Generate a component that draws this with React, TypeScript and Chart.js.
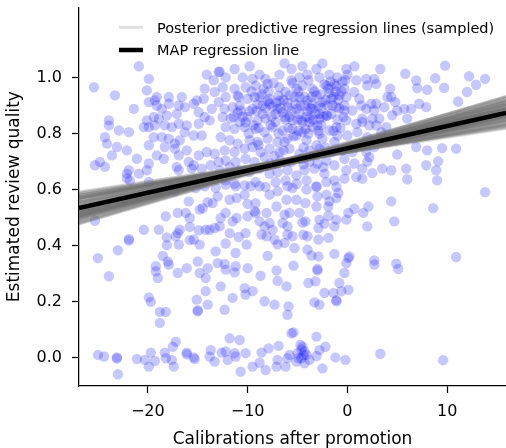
import React, { useEffect, useRef } from "react";
import { Chart, registerables } from "chart.js";

Chart.register(...registerables);

type Pt = [number, number];

// ---------- axes ----------
const X_MIN = -26.9;
const X_MAX = 15.9;
const Y_MIN = -0.1;
const Y_MAX = 1.25;
const X_TICKS = [-20, -10, 0, 10];
const Y_TICKS = [0, 0.2, 0.4, 0.6, 0.8, 1.0];
const X_TITLE = "Calibrations after promotion";
const Y_TITLE = "Estimated review quality";
const LEGEND_LABELS = ["Posterior predictive regression lines (sampled)", "MAP regression line"];

// ---------- regression lines ----------
const MAP_INTERCEPT = 0.7475;
const MAP_SLOPE = 0.00792;
const POSTERIOR_INTERCEPTS = [
  0.7493, 0.7477, 0.7507, 0.7543, 0.7421, 0.7405, 0.7509, 0.7591, 0.7385, 0.7613,
  0.7399, 0.7569, 0.7359, 0.7395, 0.7487, 0.7569, 0.7529, 0.7417, 0.7457, 0.7485,
  0.7607, 0.7377, 0.7541, 0.7485, 0.7403, 0.7531, 0.7525, 0.7423, 0.7351, 0.7601,
  0.7391, 0.7605, 0.7385, 0.7573, 0.7543, 0.7473, 0.7361, 0.7437, 0.7515, 0.7503,
  0.7605, 0.7343, 0.7541, 0.7459, 0.7441, 0.7415, 0.7667, 0.7409, 0.7371, 0.7507,
  0.7369, 0.7559, 0.7439, 0.7533, 0.7523, 0.7359, 0.7509, 0.7511, 0.7627, 0.7487,
  0.7541, 0.7407, 0.7485, 0.7593, 0.7313, 0.7669, 0.7321, 0.7621, 0.7369, 0.7651,
  0.7315, 0.7445, 0.7505, 0.7571, 0.7467, 0.7393, 0.7695, 0.7323, 0.7583, 0.7449,
];
const POSTERIOR_SLOPES = [
  0.00822, 0.00712, 0.00912, 0.00772, 0.00852, 0.00642, 0.00882, 0.00802, 0.00742, 0.00972,
  0.00682, 0.00832, 0.00782, 0.00592, 0.00862, 0.00932, 0.00732, 0.00812, 0.00662, 0.00892,
  0.01012, 0.00762, 0.00702, 0.00842, 0.00622, 0.00952, 0.00792, 0.00872, 0.00552, 0.00902,
  0.00752, 0.00992, 0.00692, 0.00822, 0.00922, 0.00722, 0.00802, 0.00612, 0.00942, 0.00672,
  0.01042, 0.00572, 0.00852, 0.00882, 0.00652, 0.00742, 0.00962, 0.00832, 0.00602, 0.00912,
  0.00582, 0.00982, 0.00632, 0.01022, 0.00872, 0.00532, 0.00932, 0.00702, 0.01062, 0.00762,
  0.01002, 0.00562, 0.00842, 0.00972, 0.00672, 0.01032, 0.00602, 0.00902, 0.00732, 0.01052,
  0.00542, 0.00642, 0.00892, 0.00952, 0.00712, 0.00822, 0.00992, 0.00622, 0.00922, 0.00782,
];

// ---------- observations (calibrations, quality) ----------
const upperLeftPoints: Pt[] = [
  [-20.9, 1.04], [-19.9, 0.995], [-25.4, 0.965], [-23.3, 0.936], [-20.1, 0.954], [-19.1, 0.93], [-17.9, 0.93],
  [-16.6, 0.93], [-19.1, 0.9], [-18.6, 0.888], [-17.9, 0.906], [-16.9, 0.9], [-16.3, 0.894], [-15.4, 0.906],
  [-15.1, 0.918], [-14.4, 0.924], [-14.3, 0.96], [-13.4, 0.99], [-12.9, 1.02], [-14.1, 1.01], [-13.3, 0.948],
  [-12.9, 0.912], [-13.6, 0.888], [-14.9, 0.876], [-14.3, 0.859], [-13.8, 0.847], [-14.9, 0.835], [-14.6, 0.793],
  [-15.4, 0.793], [-16.3, 0.805], [-16.1, 0.829], [-16.9, 0.835], [-17.1, 0.87], [-18.1, 0.864], [-18.9, 0.853],
  [-19.4, 0.859], [-20.1, 0.847], [-20.4, 0.823], [-19.9, 0.823], [-19.3, 0.829], [-18.3, 0.829], [-17.6, 0.823],
  [-16.8, 0.776], [-17.3, 0.764], [-17.9, 0.782], [-18.6, 0.787], [-19.4, 0.787], [-19.9, 0.758], [-19.1, 0.722],
  [-18.3, 0.752], [-17.3, 0.746], [-16.9, 0.722], [-16.1, 0.74], [-15.9, 0.699], [-15.4, 0.687], [-14.9, 0.722],
  [-14.1, 0.734], [-13.3, 0.728], [-12.9, 0.699], [-13.7, 0.687], [-14.6, 0.675], [-15.6, 0.675], [-16.9, 0.669],
  [-17.1, 0.681], [-18.4, 0.71], [-19.9, 0.693], [-20.1, 0.669], [-20.9, 0.657], [-21.9, 0.669], [-22.1, 0.657],
  [-21.1, 0.71], [-22.1, 0.74], [-22.9, 0.811], [-23.9, 0.847], [-23.9, 0.829], [-24.3, 0.787], [-24.1, 0.764],
  [-23.1, 0.752], [-23.6, 0.722], [-25.3, 0.687], [-24.8, 0.699], [-24.3, 0.681], [-21.9, 0.805], [-21.4, 0.888],
  [-19.9, 0.912], [-19.3, 0.918], [-21.8, 0.633], [-19.9, 0.627], [-22.1, 0.64],
];

const denseCorePoints: Pt[] = [
  [-12.8, 1.02], [-11.3, 1.03], [-9.8, 1.04], [-8.8, 1.01], [-6.3, 1.05], [-5.6, 1.03], [-4.5, 1.04], [-3.1, 1.03],
  [-2.5, 1.05], [-0.1, 1.03], [0.7, 1.04],
  [-12.2, 1.0], [-10.5, 1.0], [-9.5, 0.995], [-8.2, 0.995], [-6.8, 1.01], [-5.6, 0.99], [-4.8, 1.0], [-4.0, 1.01],
  [-2.8, 1.0], [-1.8, 1.01], [-1.0, 1.0], [0.0, 1.01], [0.9, 0.99],
  [-12.5, 0.965], [-11.3, 0.96], [-10.2, 0.965], [-9.2, 0.971], [-8.0, 0.977], [-6.8, 0.965], [-6.2, 0.948],
  [-5.1, 0.96], [-4.5, 0.971], [-3.5, 0.96], [-2.1, 0.971], [-1.3, 0.977], [-0.3, 0.96], [0.7, 0.948],
  [-12.2, 0.93], [-11.0, 0.936], [-10.0, 0.924], [-8.8, 0.93], [-7.8, 0.924], [-6.8, 0.918], [-5.8, 0.936],
  [-4.8, 0.93], [-4.0, 0.918], [-3.1, 0.936], [-2.5, 0.912], [-1.6, 0.924], [-0.8, 0.936], [-0.1, 0.93], [1.2, 0.924],
  [-12.3, 0.888], [-11.5, 0.894], [-10.7, 0.882], [-9.5, 0.888], [-8.5, 0.9], [-7.8, 0.906], [-7.0, 0.888],
  [-6.0, 0.894], [-5.1, 0.888], [-4.3, 0.9], [-3.5, 0.888], [-2.8, 0.87], [-2.0, 0.864], [-1.1, 0.894],
  [-0.3, 0.882], [0.5, 0.882], [1.4, 0.9],
  [-12.5, 0.859], [-11.7, 0.853], [-10.8, 0.841], [-10.0, 0.859], [-9.0, 0.847], [-8.2, 0.853], [-7.2, 0.841],
  [-6.3, 0.859], [-5.5, 0.847], [-4.6, 0.847], [-3.8, 0.841], [-2.8, 0.853], [-2.1, 0.864], [-1.1, 0.823],
  [-0.1, 0.847], [0.9, 0.835], [1.5, 0.853],
  [-12.2, 0.823], [-11.3, 0.817], [-10.3, 0.823], [-9.2, 0.817], [-8.3, 0.805], [-7.5, 0.823], [-6.5, 0.811],
  [-5.5, 0.817], [-4.5, 0.805], [-3.5, 0.823], [-2.8, 0.799], [-1.8, 0.811], [-1.0, 0.793], [0.0, 0.793], [1.0, 0.805],
  [-12.7, 0.787], [-11.8, 0.776], [-11.0, 0.764], [-9.8, 0.776], [-9.0, 0.77], [-8.0, 0.782], [-7.0, 0.77],
  [-6.0, 0.782], [-5.1, 0.793], [-4.1, 0.776], [-3.1, 0.758], [-2.5, 0.782], [-1.3, 0.77],
  [-12.3, 0.74], [-11.3, 0.734], [-10.3, 0.746], [-9.5, 0.752], [-8.7, 0.734], [-7.8, 0.746], [-6.8, 0.734],
  [-5.8, 0.746], [-4.8, 0.728], [-3.8, 0.74], [-2.8, 0.746], [-1.6, 0.734], [-0.5, 0.74], [0.5, 0.734],
  [-12.2, 0.704], [-11.2, 0.699], [-10.2, 0.71], [-9.3, 0.699], [-8.3, 0.716], [-7.7, 0.693], [-6.7, 0.704],
  [-5.6, 0.699], [-4.6, 0.71], [-3.8, 0.699], [-3.0, 0.693], [-2.1, 0.704], [-1.3, 0.687], [-0.3, 0.71], [0.7, 0.693],
  [-12.8, 0.669], [-11.8, 0.681], [-10.8, 0.669], [-9.8, 0.663], [-8.8, 0.675], [-7.8, 0.657], [-7.0, 0.663],
  [-6.0, 0.669], [-5.1, 0.651], [-4.3, 0.669], [-3.3, 0.675], [-2.3, 0.657], [-1.3, 0.633], [-0.1, 0.669],
  [0.9, 0.645], [1.5, 0.675],
  [-12.2, 0.633], [-11.3, 0.621], [-10.3, 0.615], [-9.2, 0.627], [-8.2, 0.61], [-7.2, 0.627], [-6.2, 0.633],
  [-5.1, 0.621], [-4.1, 0.633], [-3.1, 0.61], [-2.1, 0.627], [-1.1, 0.61], [-0.3, 0.639],
];

const crowdedCorePoints: Pt[] = [
  [-11.0, 0.875], [-10.5, 0.86], [-9.8, 0.88], [-9.0, 0.905], [-8.5, 0.87], [-8.0, 0.915], [-7.5, 0.895],
  [-7.2, 0.87], [-6.5, 0.875], [-6.0, 0.91], [-5.8, 0.86], [-5.2, 0.905], [-4.8, 0.87], [-4.5, 0.84],
  [-4.0, 0.88], [-3.8, 0.855], [-3.5, 0.905], [-3.2, 0.87], [-3.0, 0.83], [-2.6, 0.89], [-2.2, 0.92],
  [-1.8, 0.945], [-1.5, 0.9], [-1.2, 0.95], [-0.9, 0.92], [-0.5, 0.985], [-0.3, 0.9], [-1.7, 0.985],
  [-2.3, 0.975], [-4.9, 0.95], [-7.9, 0.95], [-9.3, 0.93], [-10.8, 0.9], [-6.9, 0.935], [-4.2, 0.815],
  [-2.9, 0.81], [-5.9, 0.82], [-8.9, 0.82], [-9.9, 0.8], [-3.6, 0.93], [-1.0, 0.85], [-6.4, 0.74],
  [-7.3, 0.72], [-2.4, 0.68], [-4.4, 0.69],
  [-9.6, 0.95], [-9.1, 0.88], [-8.6, 0.94], [-8.2, 0.89], [-7.6, 0.86], [-7.1, 0.91], [-6.7, 0.89],
  [-6.4, 0.92], [-6.2, 0.85], [-5.6, 0.88], [-5.3, 0.93], [-5.0, 0.85], [-4.7, 0.9], [-4.3, 0.93],
  [-4.1, 0.86], [-3.7, 0.89], [-3.4, 0.85], [-3.3, 0.95], [-2.9, 0.9], [-2.7, 0.94], [-2.4, 0.86],
  [-2.0, 0.9], [-1.9, 0.96], [-1.6, 0.87], [-1.4, 0.93], [-1.1, 0.97], [-0.8, 0.89], [-0.6, 0.95],
  [-0.4, 0.86], [-0.2, 0.99], [-10.2, 0.84], [-10.9, 0.93], [-11.4, 0.86], [-9.4, 0.83], [-8.4, 0.96],
  [-7.7, 0.83], [-6.9, 0.8], [-5.4, 0.79], [-4.9, 0.81], [-3.9, 0.8], [-2.6, 0.83], [-1.4, 0.81],
  [-0.7, 0.82], [-8.9, 0.76], [-6.3, 0.77], [-4.4, 0.75], [-2.2, 0.75], [-5.5, 0.98], [-3.9, 0.99], [-7.4, 0.98],
];

const upperRightPoints: Pt[] = [
  [5.8, 1.013], [9.8, 1.042], [6.9, 0.989], [8.8, 0.997], [12.2, 1.004], [13.8, 0.995], [1.9, 0.995],
  [2.7, 0.995], [2.0, 0.971], [2.9, 0.977], [4.3, 0.96], [7.0, 0.962], [8.0, 0.956], [9.7, 0.963],
  [12.9, 0.974], [12.0, 0.948], [11.1, 0.914], [4.0, 0.93], [4.4, 0.93], [4.8, 0.912], [2.4, 0.906],
  [2.9, 0.906], [1.9, 0.888], [2.7, 0.882], [3.7, 0.894], [5.7, 0.888], [6.4, 0.888], [7.2, 0.906],
  [7.9, 0.894], [4.5, 0.865], [6.0, 0.853], [5.0, 0.882], [3.2, 0.853], [2.5, 0.853], [1.5, 0.841],
  [2.2, 0.829], [2.9, 0.829], [3.9, 0.823], [3.4, 0.805], [2.0, 0.787], [2.7, 0.752], [1.9, 0.734],
  [5.0, 0.725], [6.9, 0.752], [8.0, 0.74], [9.5, 0.748], [10.9, 0.746], [2.0, 0.699], [2.2, 0.716],
  [3.5, 0.675], [4.4, 0.669], [5.9, 0.675], [6.0, 0.637], [7.9, 0.687], [9.1, 0.701], [8.9, 0.669],
  [9.0, 0.633], [2.5, 0.659], [1.5, 0.639], [3.3, 1.03],
];

const middlePoints: Pt[] = [
  [-25.3, 0.489], [-25.0, 0.356], [-23.9, 0.291], [-23.0, 0.384], [-21.9, 0.424], [-21.9, 0.418], [-20.4, 0.457],
  [-18.9, 0.457], [-18.2, 0.505], [-18.1, 0.43], [-18.1, 0.402], [-19.2, 0.327], [-19.2, 0.309], [-19.0, 0.285],
  [-19.9, 0.216], [-19.7, 0.2], [-18.8, 0.164], [-18.2, 0.164], [-18.8, 0.125], [-18.5, 0.364], [-18.0, 0.344],
  [-17.9, 0.333], [-17.0, 0.303], [-17.0, 0.445], [-16.8, 0.457], [-16.9, 0.404], [-16.1, 0.32], [-15.1, 0.208],
  [-15.0, 0.166], [-15.0, 0.17], [-14.2, 0.238], [-14.0, 0.19], [-15.0, 0.344], [-14.8, 0.303], [-14.2, 0.285],
  [-14.0, 0.32], [-15.4, 0.422], [-15.8, 0.42], [-15.8, 0.467], [-14.9, 0.455], [-14.8, 0.404], [-15.8, 0.499],
  [-15.9, 0.558], [-14.8, 0.529], [-14.5, 0.534], [-14.0, 0.555], [-14.2, 0.457], [-13.8, 0.457], [-13.3, 0.463],
  [-12.8, 0.469], [-13.2, 0.38], [-13.0, 0.338], [-12.7, 0.255], [-12.3, 0.172], [-12.2, 0.315], [-12.3, 0.335],
  [-11.3, 0.305], [-12.2, 0.408], [-11.5, 0.214], [-11.2, 0.327], [-11.2, 0.374], [-10.9, 0.431], [-10.2, 0.445],
  [-10.1, 0.404], [-10.0, 0.32], [-10.3, 0.249], [-10.2, 0.226], [-9.5, 0.238], [-8.7, 0.293], [-8.3, 0.202],
  [-8.0, 0.364], [-7.3, 0.19], [-7.1, 0.312], [-7.0, 0.275], [-6.1, 0.255], [-6.0, 0.154], [-5.9, 0.184],
  [-5.4, 0.329], [-5.3, 0.392], [-4.4, 0.439], [-4.0, 0.386], [-3.9, 0.267], [-3.2, 0.273], [-3.0, 0.317],
  [-3.0, 0.312], [-2.9, 0.362], [-3.6, 0.365], [-3.3, 0.198], [-2.8, 0.19], [-2.3, 0.232], [-1.4, 0.232],
  [-1.1, 0.202], [-1.1, 0.206], [-0.8, 0.267], [-0.6, 0.238], [0.1, 0.243], [-0.3, 0.303], [0.1, 0.356],
  [0.2, 0.362], [-1.3, 0.371], [-0.1, 0.338], [2.7, 0.348], [2.7, 0.333], [4.9, 0.336], [5.1, 0.317],
  [4.7, 0.487], [4.4, 0.558], [2.1, 0.54], [2.0, 0.469], [1.6, 0.517], [0.7, 0.532], [0.1, 0.517],
  [-0.1, 0.493], [-1.1, 0.493], [-1.3, 0.469], [-1.9, 0.507], [-1.9, 0.54], [-2.3, 0.479], [-1.9, 0.428],
  [-2.9, 0.422], [-2.9, 0.463], [-2.8, 0.493], [-4.0, 0.434], [-4.2, 0.487], [-4.5, 0.483], [-4.8, 0.517],
  [-5.5, 0.434], [-6.0, 0.469], [-6.0, 0.44], [-6.3, 0.41], [-7.0, 0.405], [-6.5, 0.481], [-7.3, 0.422],
  [-7.5, 0.457], [-7.8, 0.481], [-8.1, 0.434], [-8.6, 0.44], [-8.3, 0.469], [-8.8, 0.487], [-9.2, 0.517],
  [-9.3, 0.523], [-10.0, 0.505], [-11.1, 0.499], [-11.5, 0.487], [-11.8, 0.445], [-12.2, 0.517], [-12.7, 0.499],
  [-11.8, 0.564], [-13.0, 0.576], [-13.5, 0.552], [-11.1, 0.57], [-10.0, 0.549], [-9.2, 0.552], [-8.1, 0.517],
  [-7.1, 0.54], [-6.3, 0.511], [-5.8, 0.517], [-6.1, 0.564], [-5.1, 0.564], [-4.2, 0.552], [-3.1, 0.54],
  [-1.8, 0.558], [-0.9, 0.588], [-1.1, 0.57], [-2.1, 0.582], [-3.0, 0.576], [-3.1, 0.612], [-4.1, 0.6],
  [-5.5, 0.606], [-6.0, 0.612], [-7.0, 0.594], [-7.8, 0.582], [-8.8, 0.612], [-9.7, 0.612], [-10.3, 0.582],
  [-11.2, 0.612], [-12.2, 0.618], [-13.2, 0.606], [-14.3, 0.612], [-15.2, 0.606], [-16.2, 0.517], [-17.0, 0.517],
  [-17.2, 0.434], [-17.9, 0.612], [-17.3, 0.594], [8.6, 0.534], [13.8, 0.591], [10.9, 0.36],
];

const zeroRowPoints: Pt[] = [
  [-25.0, 0.011], [-24.4, 0.005], [-23.1, 0.002], [-23.1, -0.002], [-23.0, -0.058], [-21.1, -0.004],
  [-20.3, -0.007], [-19.9, -0.031], [-19.7, 0.019], [-19.3, -0.011], [-18.3, 0.019], [-18.2, -0.001],
  [-17.6, -0.007], [-17.4, -0.031], [-17.5, 0.04], [-17.2, 0.058], [-16.1, 0.019], [-16.1, 0.013],
  [-15.3, -0.004], [-15.4, 0.002], [-13.7, 0.028], [-13.8, 0.005], [-13.3, -0.013], [-12.6, 0.019],
  [-11.8, 0.07], [-10.8, 0.064], [-12.2, 0.023], [-12.0, -0.007], [-11.3, 0.017], [-11.2, 0.005],
  [-10.2, 0.017], [-10.7, -0.049], [-9.5, -0.031], [-8.8, -0.017], [-8.6, 0.019], [-7.9, 0.034],
  [-8.2, -0.043], [-6.9, 0.043], [-7.0, -0.007], [-7.1, -0.031], [-6.2, -0.031], [-6.0, -0.001],
  [-5.8, 0.011], [-5.6, 0.088], [-5.4, 0.091], [-5.1, -0.013], [-5.0, 0.017], [-4.7, 0.046], [-4.5, 0.04],
  [-4.3, 0.023], [-4.6, -0.001], [-4.3, -0.019], [-4.1, 0.011], [-3.8, -0.007], [-3.1, 0.007], [-3.1, 0.076],
  [-2.8, 0.028], [-2.5, -0.037], [-2.2, 0.04], [-1.2, 0.002], [-0.2, -0.007], [-4.6, 0.03], [-4.4, 0.01],
  [-4.9, 0.0], [3.3, 0.015], [9.6, -0.008],
];

// ---------- styles ----------
const FONT = "'DejaVu Sans', 'Liberation Sans', sans-serif";
const POINT_COLOR = "rgba(0, 0, 255, 0.22)";
const POSTERIOR_COLOR = "rgba(110, 110, 110, 0.22)";
const MAP_COLOR = "#000000";

function lineEnds(intercept: number, slope: number) {
  return [X_MIN, X_MAX].map((x) => ({ x, y: intercept + slope * x }));
}

function fmtX(v: number) {
  return v < 0 ? "\u2212" + Math.abs(v) : String(v);
}

const inlineLegend = {
  id: "inlineLegend",
  afterDraw(chart: any) {
    const { ctx, chartArea } = chart;
    const x0 = chartArea.left + 40;
    const x1 = chartArea.left + 64;
    const tx = chartArea.left + 78;
    const rows = [
      { ly: chartArea.top + 20, ty: chartArea.top + 26, color: POSTERIOR_COLOR, width: 2.8, label: LEGEND_LABELS[0] },
      { ly: chartArea.top + 42.7, ty: chartArea.top + 47.8, color: MAP_COLOR, width: 4.5, label: LEGEND_LABELS[1] },
    ];
    ctx.save();
    ctx.font = `14.5px ${FONT}`;
    ctx.textBaseline = "alphabetic";
    ctx.textAlign = "left";
    for (const r of rows) {
      ctx.beginPath();
      ctx.strokeStyle = r.color;
      ctx.lineWidth = r.width;
      ctx.moveTo(x0, r.ly);
      ctx.lineTo(x1, r.ly);
      ctx.stroke();
      ctx.fillStyle = "#000";
      ctx.fillText(r.label, tx, r.ty);
    }
    ctx.restore();
  },
};

export default function App() {
  const ref = useRef<HTMLCanvasElement | null>(null);

  useEffect(() => {
    const canvas = ref.current;
    if (!canvas) return;
    const points = [
      ...upperLeftPoints,
      ...denseCorePoints,
      ...crowdedCorePoints,
      ...upperRightPoints,
      ...middlePoints,
      ...zeroRowPoints,
    ].map(([x, y]) => ({ x, y }));

    const posterior = POSTERIOR_INTERCEPTS.map((b0, i) => ({
      label: LEGEND_LABELS[0],
      data: lineEnds(b0, POSTERIOR_SLOPES[i]),
      showLine: true,
      borderColor: POSTERIOR_COLOR,
      borderWidth: 2.8,
      pointRadius: 0,
      order: 1,
    }));

    const chart = new Chart(canvas, {
      type: "scatter",
      data: {
        datasets: [
          {
            label: LEGEND_LABELS[1],
            data: lineEnds(MAP_INTERCEPT, MAP_SLOPE),
            showLine: true,
            borderColor: MAP_COLOR,
            borderWidth: 4.5,
            pointRadius: 0,
            order: 0,
          } as any,
          ...(posterior as any[]),
          {
            label: "Reviews",
            data: points,
            backgroundColor: POINT_COLOR,
            borderWidth: 0,
            pointRadius: 5.2,
            order: 2,
          } as any,
        ],
      },
      options: {
        responsive: false,
        animation: false,
        events: [],
        layout: { autoPadding: false, padding: { top: 7.3, left: 0, right: 0, bottom: 0 } },
        plugins: { legend: { display: false }, tooltip: { enabled: false } },
        scales: {
          x: {
            type: "linear",
            min: X_MIN,
            max: X_MAX,
            afterFit: (s: any) => {
              s.height = 62;
              s.paddingLeft = 0;
              s.paddingRight = 0;
              s.paddingTop = 0;
              s.paddingBottom = 0;
            },
            afterBuildTicks: (s: any) => {
              s.ticks = X_TICKS.map((v) => ({ value: v }));
            },
            ticks: {
              callback: (v: any) => fmtX(Number(v)),
              font: { family: FONT, size: 16 },
              color: "#000",
              padding: 9,
              maxRotation: 0,
              autoSkip: false,
            },
            grid: {
              display: true,
              drawOnChartArea: false,
              drawTicks: true,
              tickLength: 7,
              tickWidth: 1.25,
              tickColor: "#000",
            },
            border: { display: true, color: "#000", width: 1.25 },
            title: {
              display: true,
              text: X_TITLE,
              color: "#000",
              font: { family: FONT, size: 17, lineHeight: 1 },
              padding: { top: 0, bottom: 0.4 },
            },
          },
          y: {
            type: "linear",
            min: Y_MIN,
            max: Y_MAX,
            afterFit: (s: any) => {
              s.width = 79;
              s.paddingLeft = 0;
              s.paddingRight = 0;
              s.paddingTop = 0;
              s.paddingBottom = 0;
            },
            afterBuildTicks: (s: any) => {
              s.ticks = Y_TICKS.map((v) => ({ value: v }));
            },
            ticks: {
              callback: (v: any) => Number(v).toFixed(1),
              font: { family: FONT, size: 16 },
              color: "#000",
              padding: 10,
              autoSkip: false,
            },
            grid: {
              display: true,
              drawOnChartArea: false,
              drawTicks: true,
              tickLength: 7,
              tickWidth: 1.25,
              tickColor: "#000",
            },
            border: { display: true, color: "#000", width: 1.25 },
            title: {
              display: true,
              text: Y_TITLE,
              color: "#000",
              font: { family: FONT, size: 17, lineHeight: 1 },
              padding: { top: 6.3, bottom: 0 },
            },
          },
        },
      },
      plugins: [inlineLegend],
    });

    return () => chart.destroy();
  }, []);

  return (
    <div style={{ position: "fixed", left: 0, top: 0, width: 506, height: 448, background: "#fff" }}>
      <canvas ref={ref} width={506} height={448} style={{ display: "block" }} />
    </div>
  );
}
